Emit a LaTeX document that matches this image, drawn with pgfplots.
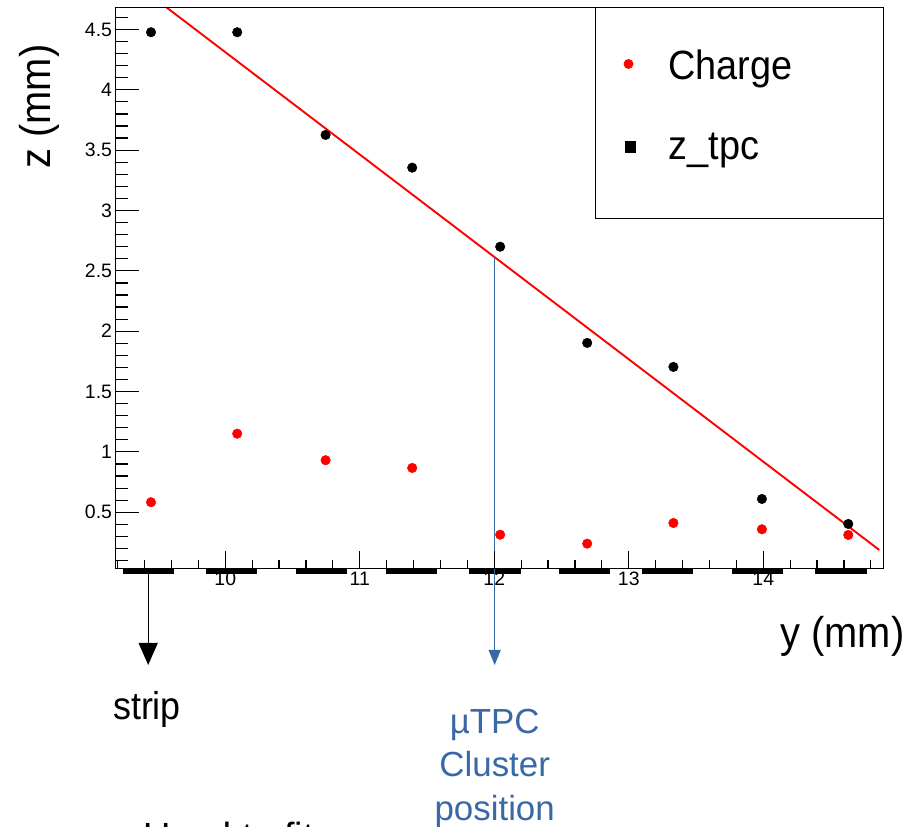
\documentclass[border=0pt]{standalone}
\usepackage{pgfplots}
\pgfplotsset{compat=1.18}
\usepackage{pgfplotstable}
\usepackage{graphicx}
\usepackage{fontspec}
\setmainfont{Liberation Sans}
\usetikzlibrary{arrows.meta}

\definecolor{tpcblue}{RGB}{58,104,166}
\newcommand{\tall}[1]{\scalebox{1}[1.08]{#1}}

% Measured cluster: strip position y (mm) and value
\pgfplotstableread{
y      z
9.448  4.477
10.089 4.477
10.746 3.626
11.390 3.355
12.044 2.700
12.691 1.903
13.332 1.704
13.990 0.610
14.632 0.403
}\ztpc

\pgfplotstableread{
y      q
9.448  0.583
10.089 1.151
10.746 0.931
11.390 0.867
12.044 0.314
12.691 0.240
13.332 0.411
13.990 0.359
14.632 0.312
}\charge

\begin{document}
\begin{tikzpicture}[x=1bp,y=1bp]
\useasboundingbox (0,0) rectangle (921,827);

% main axis: data, y ticks, legend
\begin{axis}[
  at={(115.5bp,258.5bp)}, anchor=south west,
  width=768bp, height=561bp, scale only axis,
  xmin=9.184, xmax=14.894, ymin=0.034, ymax=4.682,
  clip=false,
  axis line style={line width=1.2bp, black},
  xtick=\empty,
  ytick={0.5,1,1.5,2,2.5,3,3.5,4,4.5},
  minor ytick={0.1,0.2,0.3,0.4,0.6,0.7,0.8,0.9,1.1,1.2,1.3,1.4,1.6,1.7,1.8,1.9,2.1,2.2,2.3,2.4,2.6,2.7,2.8,2.9,3.1,3.2,3.3,3.4,3.6,3.7,3.8,3.9,4.1,4.2,4.3,4.4,4.6},
  ytick pos=left,
  tick align=inside,
  major tick length=23bp, minor tick length=12bp,
  tick style={line width=1.2bp, black},
  tick label style={font=\fontsize{19.5}{21}\selectfont},
  /pgf/number format/assume math mode=true,
  reverse legend,
  legend style={at={(1,1)}, anchor=north east, draw=black, line width=1.2bp,
    fill=white, inner sep=0pt, outer sep=0pt, row sep=0pt, column sep=0pt,
    font=\fontsize{38}{40}\selectfont,
    cells={anchor=base west, inner sep=0pt, outer sep=0pt}},
]
% strips of the readout plane
\addplot[black, line width=6.3bp, forget plot, unbounded coords=jump] coordinates {
  (9.237,0.015) (9.619,0.015) (9.7,nan)
  (9.857,0.015) (10.238,0.015) (10.3,nan)
  (10.526,0.015) (10.905,0.015) (11.0,nan)
  (11.195,0.015) (11.572,0.015) (11.7,nan)
  (11.814,0.015) (12.196,0.015) (12.3,nan)
  (12.481,0.015) (12.860,0.015) (12.9,nan)
  (13.100,0.015) (13.480,0.015) (13.6,nan)
  (13.770,0.015) (14.149,0.015) (14.2,nan)
  (14.387,0.015) (14.769,0.015)
};
\addplot[only marks, mark=*, mark size=4.8bp, black,
  legend image code/.code={
    \path[draw=none, fill=none] (-33bp,-58.5bp) rectangle (38bp,50bp);
    \draw[only marks, mark=square*, mark size=5bp, black] plot coordinates {(2bp,13bp)};
  }] table[x=y, y=z] {\ztpc};
\addlegendentry{\makebox[213bp][l]{\tall{z\_tpc}}}
\addplot[only marks, mark=*, mark size=4.8bp, red, mark options={fill=red, draw=red},
  legend image code/.code={
    \path[draw=none, fill=none] (-33bp,-30bp) rectangle (38bp,72.5bp);
    \draw[only marks, mark=*, mark size=4.3bp, red] plot coordinates {(0bp,16bp)};
  }] table[x=y, y=q] {\charge};
\addlegendentry{\makebox[213bp][l]{\tall{Charge}}}
% straight-line fit to z_tpc
\addplot[red, line width=1.9bp, forget plot] coordinates {(9.564,4.682) (14.862,0.188)};

% arrows down from the strip and from the fitted position
\draw[black, line width=1.3bp, -{Triangle[width=19bp,length=22bp]}]
  (axis cs:9.427,-0.0116) -- (axis cs:9.427,-0.7655);
\draw[tpcblue, line width=1.2bp, -{Triangle[width=12bp,length=15bp]}]
  (axis cs:12.003,2.612) -- (axis cs:12.003,-0.7655);
\end{axis}

% second layer: x ticks with their own lengths
\begin{axis}[
  at={(115.5bp,258.5bp)}, anchor=south west,
  width=768bp, height=561bp, scale only axis,
  xmin=9.184, xmax=14.894, ymin=0.034, ymax=4.682,
  axis line style={line width=1.2bp, black},
  ytick=\empty,
  xtick={10,11,12,13,14},
  minor xtick={9.2,9.4,9.6,9.8,10.2,10.4,10.6,10.8,11.2,11.4,11.6,11.8,12.2,12.4,12.6,12.8,13.2,13.4,13.6,13.8,14.2,14.4,14.6,14.8},
  xtick pos=left,
  tick align=inside,
  major tick length=17bp, minor tick length=8bp,
  tick style={line width=1.2bp, black},
  tick label style={font=\fontsize{19.5}{21}\selectfont},
  /pgf/number format/assume math mode=true,
]
\end{axis}

% axis titles
\node[rotate=90, inner sep=0pt, font=\fontsize{40}{42}\selectfont] at (39,720.5) {\tall{z (mm)}};
\node[inner sep=0pt, font=\fontsize{40}{42}\selectfont] at (842.5,190.3) {\tall{y (mm)}};

% annotations
\node[anchor=base, inner sep=0pt, font=\fontsize{36}{38}\selectfont] at (147,107.7) {\tall{strip}};
\begin{scope}[tpcblue, font=\fontsize{35}{37}\selectfont]
\node[anchor=base, inner sep=0pt] at (494.7,93.7) {µTPC};
\node[anchor=base, inner sep=0pt] at (494.7,50.3) {Cluster};
\node[anchor=base, inner sep=0pt] at (494.7,6) {position};
\end{scope}
\node[anchor=base west, inner sep=0pt, font=\fontsize{38}{40}\selectfont] at (143,-23) {Used to fit};
\end{tikzpicture}
\end{document}
